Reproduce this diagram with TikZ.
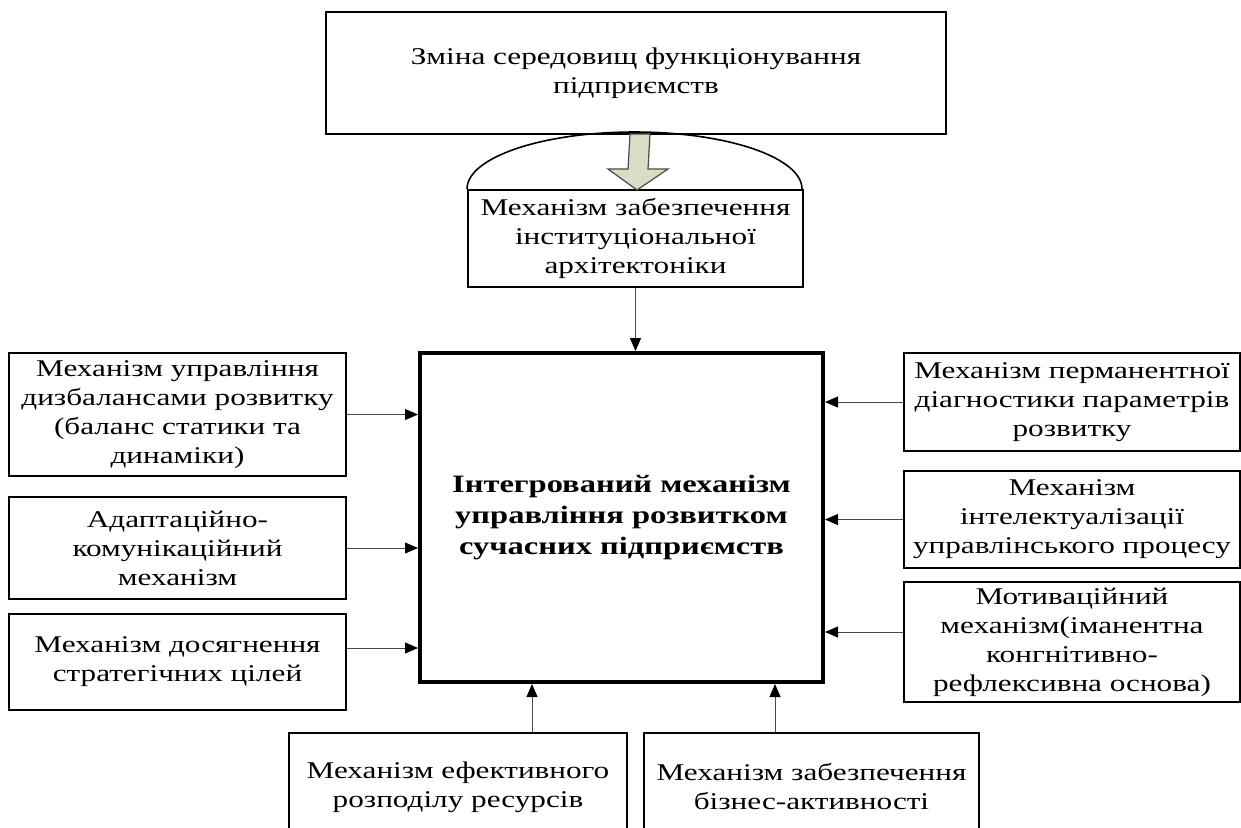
\documentclass[tikz,border=0pt]{standalone}
\usepackage{fontspec}
\setmainfont{Liberation Serif}[FakeStretch=1.3]
\usetikzlibrary{arrows.meta,calc}
\definecolor{sage}{HTML}{D8DDC6}
\definecolor{linegray}{HTML}{4A4A4A}

\begin{document}
\begin{tikzpicture}[
  x=0.5pt,y=-0.5pt,
  box/.style={draw=black,line width=1pt,align=center,inner sep=1pt,font=\fontsize{12}{14.5}\selectfont},
  core/.style={draw=black,line width=2pt,align=center,font=\fontsize{12.5}{15.5}\selectfont\bfseries},
  arr/.style={-{Triangle[length=6.5pt,width=5.5pt,color=black]},line width=0.5pt,draw=linegray}
]
\useasboundingbox (0,0) rectangle (1241,827);
\clip (0,0) rectangle (1241,827);
\fill[white] (0,0) rectangle (1241,827);
% top part
\node[box,minimum width=310pt,minimum height=61pt] (env) at (636,73) {Зміна середовищ функціонування\\підприємств};
\node[box,minimum width=167.5pt,minimum height=48.5pt] (inst) at (635.5,238.5) {Механізм забезпечення\\інституціональної\\архітектоніки};
\node[core,minimum width=201.5pt,minimum height=164.5pt] (main) at (621.5,517.5) {Інтегрований механізм\\управління розвитком\\сучасних підприємств};
% left column
\node[box,minimum width=168.5pt,minimum height=61.5pt] (left1) at (177.5,414.5) {Механізм управління\\дизбалансами розвитку\\(баланс статики та\\динаміки)};
\node[box,minimum width=168.5pt,minimum height=51pt] (left2) at (177.5,548) {Адаптаційно-\\комунікаційний\\механізм};
\node[box,minimum width=168.5pt,minimum height=48pt] (left3) at (177.5,662) {Механізм досягнення\\стратегічних цілей};
% right column
\node[box,minimum width=168pt,minimum height=49pt] (right1) at (1072,402) {Механізм перманентної\\діагностики параметрів\\розвитку};
\node[box,minimum width=168pt,minimum height=48.5pt] (right2) at (1072,519.5) {Механізм\\інтелектуалізації\\управлінського процесу};
\node[box,minimum width=168pt,minimum height=60pt] (right3) at (1072,642) {Мотиваційний\\механізм(іманентна\\конгнітивно-\\рефлексивна основа)};
% bottom row
\node[box,minimum width=169pt,minimum height=54pt] (bot1) at (458,787) {Механізм ефективного\\розподілу ресурсів};
\node[box,minimum width=167.5pt,minimum height=54pt] (bot2) at (811.5,787) {Механізм забезпечення\\бізнес-активності};
% dome and block arrow
\draw[line width=0.8pt] (inst.north west) arc[start angle=180,end angle=0,x radius=83.75pt,y radius=28.5pt];
\filldraw[fill=sage,draw=linegray,line width=0.6pt] (630,134) -- (650,134) -- (648,169) -- (668,169) -- (637,190) -- (608,169) -- (628,169) -- cycle;
% connectors
\draw[arr] (inst.south) -- (inst.south |- main.north);
\draw[arr] (left1.east) -- (left1.east -| main.west);
\draw[arr] (left2.east) -- (left2.east -| main.west);
\draw[arr] ([yshift=7pt]left3.east) -- ([yshift=7pt]left3.east -| main.west);
\draw[arr] (right1.west) -- (right1.west -| main.east);
\draw[arr] (right2.west) -- (right2.west -| main.east);
\draw[arr] ([yshift=5pt]right3.west) -- ([yshift=5pt]right3.west -| main.east);
\draw[arr] ([xshift=37pt]bot1.north) -- ([xshift=37pt]bot1.north |- main.south);
\draw[arr] ([xshift=-18.25pt]bot2.north) -- ([xshift=-18.25pt]bot2.north |- main.south);
\end{tikzpicture}
\end{document}
